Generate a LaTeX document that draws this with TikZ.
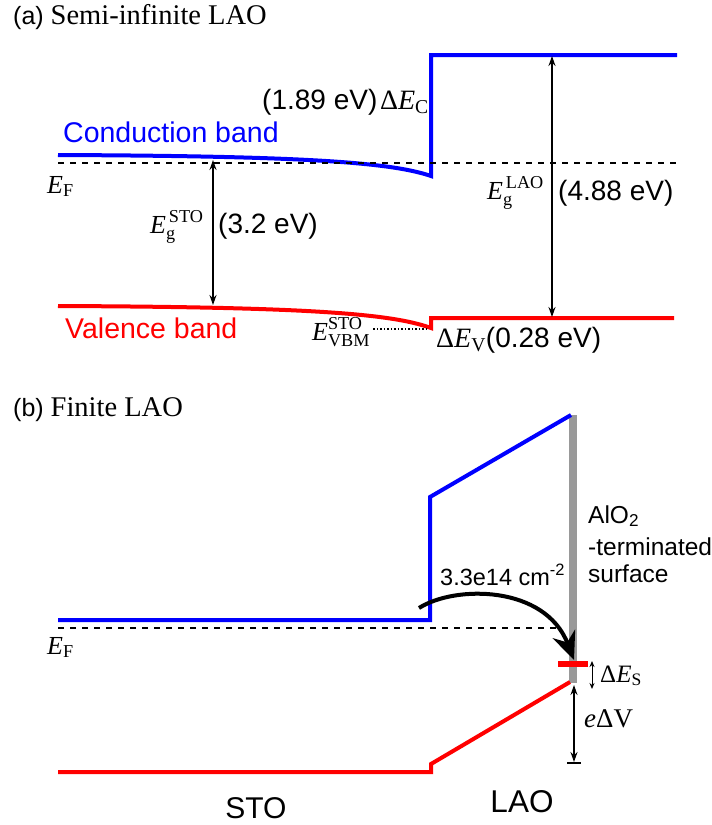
\documentclass[tikz,border=0pt]{standalone}
\usepackage{amsmath}
\usepackage{fontspec}
\setmainfont{Liberation Serif}
\setsansfont{Liberation Sans}
\usetikzlibrary{arrows.meta}

\newcommand{\En}{\textit{E}}

\begin{document}
\begin{tikzpicture}[x=1pt,y=-1pt,
  cband/.style={blue,line width=4pt,line join=miter},
  vband/.style={red,line width=4pt,line join=miter},
  fermi/.style={line width=1.8pt,dash pattern=on 6pt off 6pt},
  gaparrow/.style={{Stealth[length=10pt,width=7pt]}-{Stealth[length=10pt,width=7pt]},line width=1.6pt},
  sans/.style={inner sep=0,font=\sffamily\fontsize{28}{32}\selectfont},
  serif/.style={inner sep=0,font=\fontsize{26}{30}\selectfont}]
\useasboundingbox (0,0) rectangle (712,825);

% (a) semi-infinite LAO
\node[sans,anchor=base west,font=\sffamily\fontsize{25}{30}\selectfont] (titlea) at (13,24) {(a) {\rmfamily\fontsize{28.5}{30}\selectfont Semi-infinite LAO}};

\draw[cband] (58,155) .. controls (300,156) and (390,162) .. (431,176) -- (431,55) -- (677,55);
\draw[vband] (58,306) .. controls (300,307) and (390,313) .. (431,328) -- (431,318) -- (674,318);
\draw[fermi] (58,163) -- (680,163);

\node[sans,anchor=base west,blue,font=\sffamily\fontsize{28.5}{32}\selectfont] (cbtext) at (63,142) {Conduction band};
\node[sans,anchor=base west,red,font=\sffamily\fontsize{28.5}{32}\selectfont] (vbtext) at (65,338) {Valence band};
\node[serif,anchor=base west] (efa) at (47,193) {\En\textsubscript{F}};

\coordinate (gstotop) at (213,160);
\coordinate (gstobot) at (213,305);
\draw[gaparrow] (gstotop) -- (gstobot);
\node[serif,anchor=base west] (gsto) at (150,233) {$\En_{\text{g}}^{\,\text{STO}}$};
\node[sans,anchor=base west] (gstoval) at (218,233) {(3.2 eV)};

\coordinate (glaotop) at (552,56);
\coordinate (glaobot) at (552,317);
\draw[gaparrow] (glaotop) -- (glaobot);
\node[serif,anchor=base west] (glao) at (487,199) {$\En_{\text{g}}^{\,\text{LAO}}$};
\node[sans,anchor=base west] (glaoval) at (558,200) {(4.88 eV)};

\node[sans,anchor=base west] (dec) at (262,109) {(1.89 eV)};
\node[serif,anchor=base east,font=\fontsize{28}{30}\selectfont] (decsym) at (429,109) {Δ\En\textsubscript{C}};

\node[serif,anchor=base west] (vbm) at (312,340) {$\En_{\text{VBM}}^{\text{STO}}$};
\coordinate (vbmend) at (429,329);
\draw[dotted,line width=1.5pt] (vbm.east |- vbmend) ++(3,0) -- (vbmend);
\node[serif,anchor=base west] (dev) at (436,347) {{\fontsize{28}{30}\selectfont Δ\En\textsubscript{V}}{\sffamily\fontsize{28}{32}\selectfont(0.28 eV)}};

% (b) finite LAO
\node[sans,anchor=base west,font=\sffamily\fontsize{25}{30}\selectfont] (titleb) at (13,416) {(b) {\rmfamily\fontsize{28.5}{30}\selectfont Finite LAO}};

\draw[gray!80,line width=8pt] (573,415) -- (573,683);
\draw[cband] (58,620) -- (430,620) -- (430,497) -- (571,415);
\draw[vband] (58,772) -- (431,772) -- (431,764) -- (570,682);
\draw[red,line width=6pt] (558,664) -- (588,664);
\draw[fermi] (58,628) -- (558,628);
\node[serif,anchor=base west] (efb) at (47,654) {\En\textsubscript{F}};

\coordinate (transfrom) at (419,608);
\coordinate (transto) at (574,660);
\draw[line width=4pt,-{Stealth[length=28pt,width=24pt]}] (transfrom) .. controls (455,585) and (545,585) .. (transto);
\node[sans,anchor=base west,font=\sffamily\fontsize{23.5}{28}\selectfont] (density) at (440,585) {3.3e14 cm\textsuperscript{-2}};

\node[sans,anchor=base west,font=\sffamily\fontsize{24.5}{28}\selectfont] (alo) at (588,523) {AlO\textsubscript{2}};
\node[sans,anchor=base west,font=\sffamily\fontsize{24.5}{28}\selectfont] (term) at (588,555) {-terminated};
\node[sans,anchor=base west,font=\sffamily\fontsize{24.5}{28}\selectfont] (surf) at (588,582) {surface};

\coordinate (dstop) at (592,661);
\coordinate (dsbot) at (592,689);
\draw[{Stealth[length=6pt,width=5pt]}-{Stealth[length=6pt,width=5pt]},line width=1pt] (dstop) -- (dsbot);
\node[serif,anchor=base west,font=\fontsize{25}{28}\selectfont] (des) at (600,682) {Δ\En\textsubscript{S}};

\coordinate (dvtop) at (574,685);
\coordinate (dvbot) at (574,762);
\draw[gaparrow] (dvtop) -- (dvbot);
\draw[line width=1.5pt] (567,763) -- (581,763);
\node[serif,anchor=base west,font=\fontsize{27}{30}\selectfont] (dv) at (584,727) {\textit{e}ΔV};

\node[sans,anchor=base,font=\sffamily\fontsize{30}{36}\selectfont] (sto) at (256,818) {STO};
\node[sans,anchor=base,font=\sffamily\fontsize{31.5}{36}\selectfont] (lao) at (522,812) {LAO};
\end{tikzpicture}
\end{document}
